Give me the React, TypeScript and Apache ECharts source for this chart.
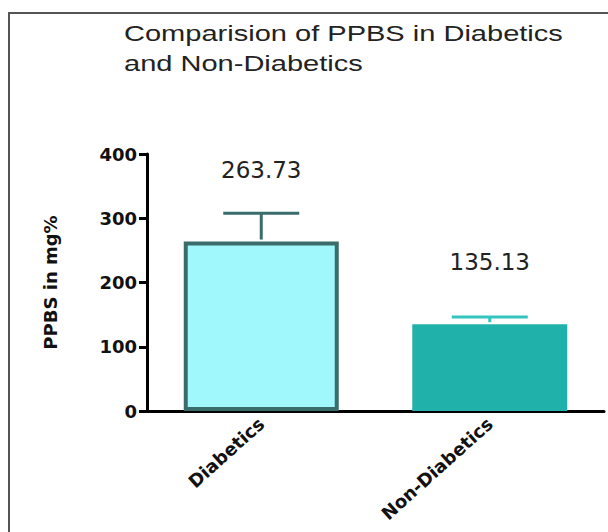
import React, { useEffect, useRef } from "react";
import * as echarts from "echarts";

// Group names, mean PPBS (mg%) and standard deviation of each group
const categories = ["Diabetics", "Non-Diabetics"];
const means = [263.73, 135.13];
const sds = [44, 11];
const yTicks = [0, 100, 200, 300, 400];

const fills = ["#a0f7fc", "#20b2aa"];
const borders = ["#3b6c6c", "#20b2aa"];
const errColors = ["#3b6c6c", "#33c4bd"];
const labelGaps = [60, 51];

export default function App() {
  const ref = useRef<HTMLDivElement>(null);

  useEffect(() => {
    if (!ref.current) return;
    const chart = echarts.init(ref.current, undefined, { renderer: "svg" });

    const barData = means.map((v, i) => ({
      value: v,
      itemStyle: {
        color: fills[i],
        borderColor: borders[i],
        borderWidth: i === 0 ? 4 : 0,
      },
      label: { distance: labelGaps[i] },
    }));

    const errData = means.map((v, i) => [i, v, v + sds[i]]);

    chart.setOption({
      animation: false,
      backgroundColor: "#ffffff",
      graphic: [
        {
          type: "rect",
          shape: { x: 9, y: 13, width: 700, height: 600 },
          style: { fill: "none", stroke: "#555555", lineWidth: 2 },
          silent: true,
        },
        {
          type: "text",
          x: 124,
          y: 18,
          scaleX: 1.32,
          style: {
            text: "Comparision of PPBS in Diabetics\nand Non-Diabetics",
            font: "22px 'Liberation Sans', Arial, sans-serif",
            fill: "#222222",
            lineHeight: 30,
          },
        },
      ],
      grid: { left: 147, right: 4, top: 154, bottom: 121 },
      xAxis: {
        type: "category",
        data: categories,
        axisLine: { lineStyle: { color: "#000", width: 3 } },
        axisTick: { alignWithLabel: true, length: 6, lineStyle: { color: "#000", width: 3 } },
        axisLabel: {
          rotate: 42,
          margin: 10,
          color: "#111",
          fontFamily: "'DejaVu Sans', sans-serif",
          fontWeight: "bold",
          fontSize: 18,
        },
      },
      yAxis: {
        type: "value",
        min: 0,
        max: 400,
        interval: 100,
        name: "PPBS in mg%",
        nameLocation: "middle",
        nameGap: 88,
        nameTextStyle: {
          color: "#111",
          fontFamily: "'DejaVu Sans', sans-serif",
          fontWeight: "bold",
          fontSize: 18,
        },
        splitLine: { show: false },
        axisLine: { show: true, lineStyle: { color: "#000", width: 3 } },
        axisTick: { show: true, length: 8, lineStyle: { color: "#000", width: 3 } },
        axisLabel: {
          margin: 10,
          color: "#111",
          fontFamily: "'DejaVu Sans', sans-serif",
          fontWeight: "bold",
          fontSize: 18,
          formatter: (v: number) => (yTicks.includes(v) ? String(v) : ""),
        },
      },
      series: [
        {
          type: "bar",
          data: barData,
          barWidth: 155,
          z: 2,
          label: {
            show: true,
            position: "top",
            color: "#222",
            fontFamily: "'DejaVu Sans', sans-serif",
            fontSize: 23,
            formatter: (p: any) => Number(p.value).toFixed(2),
          },
        },
        {
          type: "custom",
          z: 3,
          data: errData,
          renderItem: (params: any, api: any) => {
            const i = api.value(0);
            const base = api.coord([i, api.value(1)]);
            const top = api.coord([i, api.value(2)]);
            const half = 38;
            const color = errColors[params.dataIndex];
            return {
              type: "group",
              children: [
                {
                  type: "line",
                  shape: { x1: base[0], y1: base[1] - 2, x2: top[0], y2: top[1] },
                  style: { stroke: color, lineWidth: 3 },
                },
                {
                  type: "line",
                  shape: { x1: top[0] - half, y1: top[1], x2: top[0] + half, y2: top[1] },
                  style: { stroke: color, lineWidth: 3 },
                },
              ],
            };
          },
        },
      ],
    });

    return () => chart.dispose();
  }, []);

  return (
    <div
      ref={ref}
      style={{ position: "fixed", left: 0, top: 0, width: 608, height: 532 }}
    />
  );
}
